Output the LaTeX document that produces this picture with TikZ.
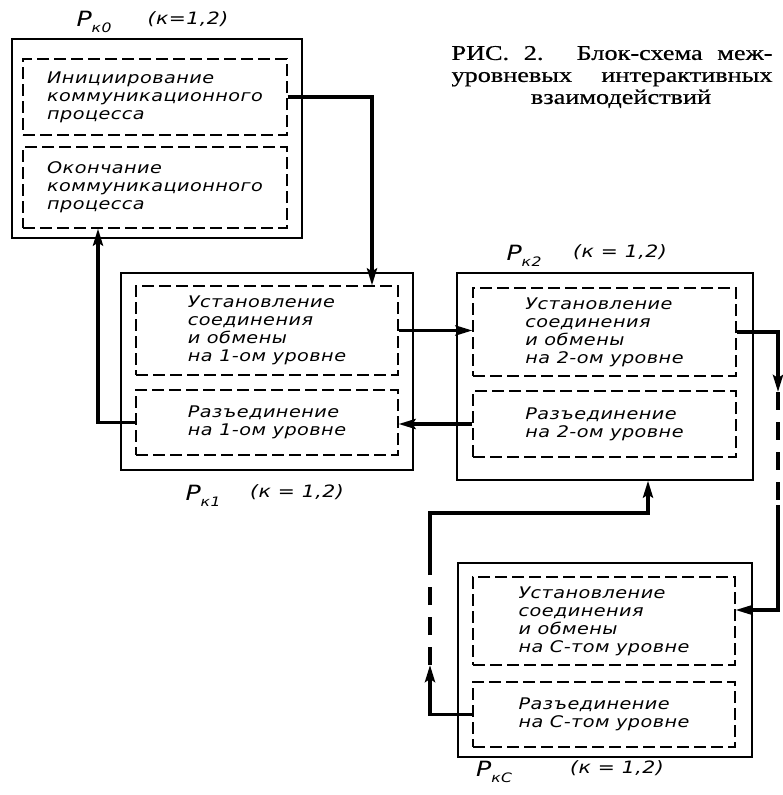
\documentclass[tikz,border=0pt]{standalone}
\usepackage{fontspec}
\newfontfamily\drawfont[FakeStretch=1.2, LetterSpace=3, WordSpace=1.8]{DejaVu Sans}
\newfontfamily\lblfont[FakeStretch=1.2, LetterSpace=3]{DejaVu Sans}
\newfontfamily\capfont[FakeStretch=1.25, FakeBold=0.6]{Liberation Serif}
\usetikzlibrary{arrows.meta, positioning}

\newcommand\procname[1]{{\fontsize{21}{21}\selectfont P}\raisebox{-6pt}{\fontsize{13}{13}\selectfont #1}}

\begin{document}
\begin{tikzpicture}[x=1pt, y=-1pt,
  outerbox/.style={draw, line width=1.2pt, inner sep=0pt},
  innerbox/.style={draw, dash pattern=on 12pt off 5pt, line width=1.2pt, align=left,
    font=\drawfont\itshape\fontsize{16}{18}\selectfont},
  lbl/.style={font=\lblfont\itshape\fontsize{17}{18}\selectfont, inner sep=0pt},
  link/.style={line width=3.5pt},
  conn/.style={link, -{Stealth[length=17pt, width=10pt, inset=3pt]}}]

\useasboundingbox (0,0) rectangle (783,795);

% the caption
\node [font=\capfont\fontsize{21}{22}\selectfont, align=center, inner sep=0pt] (cap) at (612,77)
  {\makebox[321pt][s]{РИС. 2. Блок-схема меж-}\\
   \makebox[321pt][s]{уровневых интерактивных}\\
   \hspace*{18pt}взаимодействий};

% process P_k0
\node [outerbox, line width=2pt, minimum width=290pt, minimum height=199pt] (P0) at (157,138.5) {};
\node [innerbox, minimum width=264pt, minimum height=76pt] (P0a) at (155,97)
  {Инициирование\\коммуникационного\\процесса};
\node [innerbox, minimum width=264pt, minimum height=81pt] (P0b) at (155,187.5)
  {Окончание\\коммуникационного\\процесса};
\node [lbl] (P0n) at (94,22) {\procname{к0}};
\node [lbl] (P0k) at (188,19) {(к=1,2)};

% process P_k1
\node [outerbox, minimum width=292pt, minimum height=197pt] (P1) at (267,371.5) {};
\node [innerbox, minimum width=262pt, minimum height=89pt] (P1a) at (267,330.5)
  {Установление\\соединения\\и обмены\\на 1-ом уровне};
\node [innerbox, minimum width=262pt, minimum height=65pt] (P1b) at (267,422.5)
  {Разъединение\\на 1-ом уровне};
\node [lbl] (P1n) at (203,496) {\procname{к1}};
\node [lbl] (P1k) at (297,492) {(к = 1,2)};

% process P_k2
\node [outerbox, minimum width=296pt, minimum height=207pt] (P2) at (605,376.5) {};
\node [innerbox, minimum width=263pt, minimum height=88pt] (P2a) at (604.5,332)
  {Установление\\соединения\\и обмены\\на 2-ом уровне};
\node [innerbox, minimum width=263pt, minimum height=66pt] (P2b) at (604.5,424)
  {Разъединение\\на 2-ом уровне};
\node [lbl] (P2n) at (524,256) {\procname{к2}};
\node [lbl] (P2k) at (620,252) {(к = 1,2)};

% process P_kC
\node [outerbox, minimum width=294pt, minimum height=194pt] (PC) at (605,660) {};
\node [innerbox, minimum width=262pt, minimum height=88pt] (PCa) at (604,621)
  {Установление\\соединения\\и обмены\\на С-том уровне};
\node [innerbox, minimum width=262pt, minimum height=65pt] (PCb) at (604,714.5)
  {Разъединение\\на С-том уровне};
\node [lbl] (PCn) at (494,772) {\procname{кС}};
\node [lbl] (PCk) at (617,768) {(к = 1,2)};

% links between the levels
\draw [conn] (P0a.east) -| ([xshift=105pt]P1a.north);
\draw [conn] (P1a.east) -- (P1a.east -| P2a.west);
\draw [conn] (P2b.west) -- (P2b.west -| P1b.east);
\draw [conn] (P1b.west) -| ([xshift=-57pt]P0b.south);

\coordinate (r1) at (778,392);
\coordinate (r2) at (778,505);
\draw [conn] (P2a.east) -| (r1);
\draw [link, dash pattern=on 18pt off 12pt] (r1) -- (r2);
\draw [conn] (r2) |- ([yshift=11pt]PCa.east);

\coordinate (l1) at (430,665);
\coordinate (l2) at (430,563);
\coordinate (l3) at (648,513);
\draw [conn] (PCb.west) -| (l1);
\draw [link, dash pattern=on 18pt off 12pt] (l1) -- (l2);
\draw [conn] (l2) |- (l3) -- (l3 |- P2.south);

\end{tikzpicture}
\end{document}
